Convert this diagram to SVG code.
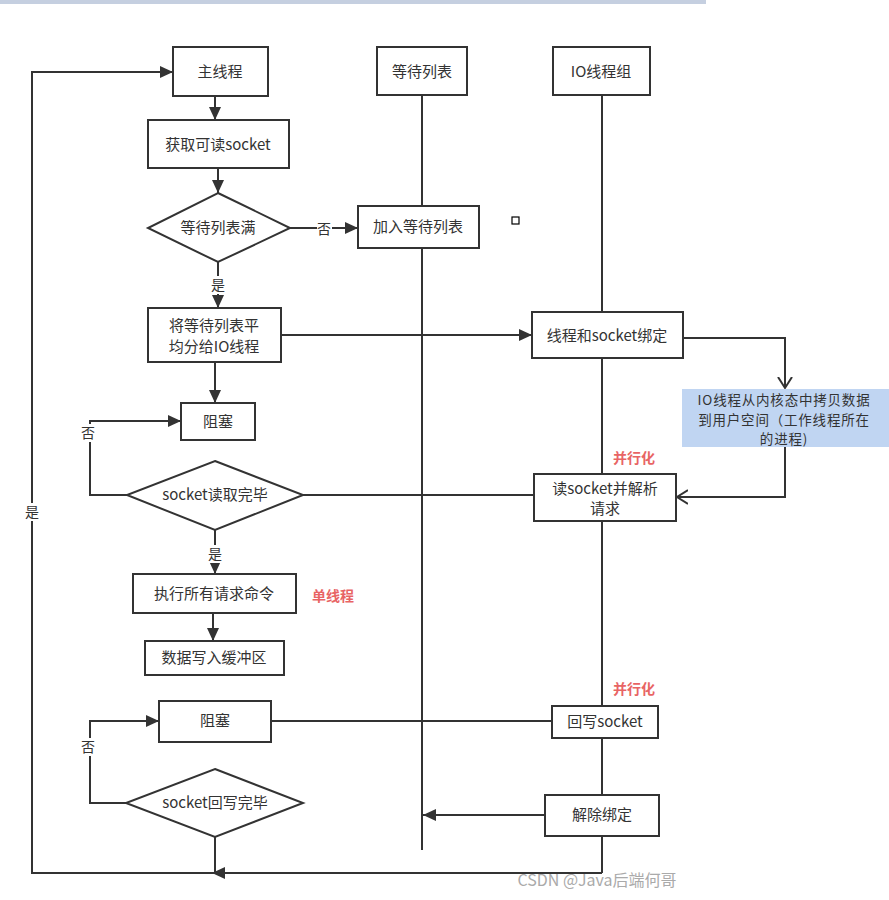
<svg xmlns="http://www.w3.org/2000/svg" width="889" height="900" viewBox="0 0 889 900">
<style>
.box{fill:#fff;stroke:#333;stroke-width:2}
.ln{fill:none;stroke:#333;stroke-width:2}
.t{font-family:"Noto Sans CJK SC","Noto Sans",sans-serif;font-size:15px;fill:#333;text-anchor:middle}
.tb{font-family:"Noto Sans CJK SC","Noto Sans",sans-serif;font-size:13.5px;letter-spacing:0.8px;fill:#333;text-anchor:middle}
.red{font-family:"Noto Sans CJK SC",sans-serif;font-size:14px;font-weight:bold;fill:#e86464;text-anchor:middle}
.lbl{font-family:"Noto Sans CJK SC",sans-serif;font-size:14px;fill:#333;text-anchor:middle}
</style>
<defs>
<marker id="arr" markerUnits="userSpaceOnUse" markerWidth="14" markerHeight="12" refX="13" refY="6" orient="auto">
<path d="M0,0 L13,6 L0,12 z" fill="#333"/>
</marker>
<marker id="open" markerUnits="userSpaceOnUse" markerWidth="14" markerHeight="16" refX="11" refY="8" orient="auto">
<path d="M0,1 L11,8 L0,15" fill="none" stroke="#333" stroke-width="2"/>
</marker>
</defs>
<rect x="0" y="0" width="706" height="4" fill="#c5cfe0"/>

<g id="connectors">
<path class="ln" d="M422,95 L422,206 M422,248 L422,850"/>
<path class="ln" d="M602,95 L602,312 M602,358 L602,474 M602,521 L602,706 M602,738 L602,795 M602,836 L602,873"/>
<path class="ln" d="M215,96 L215,120" marker-end="url(#arr)"/>
<path class="ln" d="M218,168 L218,193" marker-end="url(#arr)"/>
<path class="ln" d="M290,228 L358,228" marker-end="url(#arr)"/>
<path class="ln" d="M218,262 L218,308" marker-end="url(#arr)"/>
<path class="ln" d="M281,335 L532,335" marker-end="url(#arr)"/>
<path class="ln" d="M683,338 L785,338 L785,388" marker-end="url(#open)"/>
<path class="ln" d="M785,447 L785,497 L677,497" marker-end="url(#open)"/>
<path class="ln" d="M215,362 L215,403" marker-end="url(#arr)"/>
<path class="ln" d="M127,495 L90,495 L90,421 L181,421" marker-end="url(#arr)"/>
<path class="ln" d="M303,495 L534,495"/>
<path class="ln" d="M215,530 L215,574" marker-end="url(#arr)"/>
<path class="ln" d="M213,613 L213,641" marker-end="url(#arr)"/>
<path class="ln" d="M271,721 L552,721"/>
<path class="ln" d="M126,803 L90,803 L90,721 L159,721" marker-end="url(#arr)"/>
<path class="ln" d="M545,815 L423,815" marker-end="url(#arr)"/>
<path class="ln" d="M215,837 L215,873"/>
<path class="ln" d="M602,873 L212,873" marker-end="url(#arr)"/>
<path class="ln" d="M215,873 L32,873 L32,72 L173,72" marker-end="url(#arr)"/>
<rect x="317" y="219" width="15" height="18" fill="#fff"/>
<text class="lbl" x="324" y="234">否</text>
<rect x="211" y="276" width="15" height="18" fill="#fff"/>
<text class="lbl" x="218" y="290">是</text>
<rect x="81" y="424" width="15" height="18" fill="#fff"/>
<text class="lbl" x="88" y="438">否</text>
<rect x="208" y="545" width="15" height="18" fill="#fff"/>
<text class="lbl" x="215" y="559">是</text>
<rect x="81" y="738" width="15" height="18" fill="#fff"/>
<text class="lbl" x="88" y="752">否</text>
<rect x="24" y="503" width="16" height="18" fill="#fff"/>
<text class="lbl" x="32" y="517">是</text>
</g>

<g id="n-main"><rect class="box" x="173" y="47" width="95" height="49"/><text class="t" x="220" y="77">主线程</text></g>
<g id="n-waitlist"><rect class="box" x="377" y="47" width="90" height="48"/><text class="t" x="422" y="77">等待列表</text></g>
<g id="n-iogroup"><rect class="box" x="553" y="47" width="97" height="48"/><text class="t" x="601" y="77">IO线程组</text></g>
<g id="n-get"><rect class="box" x="148" y="120" width="141" height="48"/><text class="t" x="218" y="150">获取可读socket</text></g>
<g id="n-full"><polygon class="box" points="218,193 290,228 218,262 148,228"/><text class="t" x="218" y="233">等待列表满</text></g>
<g id="n-add"><rect class="box" x="358" y="206" width="121" height="42"/><text class="t" x="418" y="232">加入等待列表</text></g>
<g id="n-sq"><rect x="512" y="217" width="7" height="7" fill="#fff" stroke="#000" stroke-width="1.2"/></g>
<g id="n-assign"><rect class="box" x="148" y="308" width="133" height="54"/><text class="t" x="214" y="331">将等待列表平</text><text class="t" x="214" y="352">均分给IO线程</text></g>
<g id="n-bind"><rect class="box" x="532" y="312" width="151" height="46"/><text class="t" x="607" y="341">线程和socket绑定</text></g>
<g id="n-copy"><rect x="682" y="389" width="207" height="58" fill="#c0d5f2"/><text class="tb" x="784" y="405">IO线程从内核态中拷贝数据</text><text class="tb" x="784" y="424.5">到用户空间（工作线程所在</text><text class="tb" x="784" y="444">的进程)</text></g>
<g id="n-block1"><rect class="box" x="181" y="403" width="74" height="37"/><text class="t" x="218" y="427">阻塞</text></g>
<g id="n-readdone"><polygon class="box" points="215,461 303,495 215,530 127,495"/><text class="t" x="215" y="500">socket读取完毕</text></g>
<g id="n-read"><rect class="box" x="534" y="474" width="142" height="47"/><text class="t" x="605" y="494">读socket并解析</text><text class="t" x="605" y="514">请求</text></g>
<g id="n-exec"><rect class="box" x="133" y="574" width="163" height="39"/><text class="t" x="214" y="599">执行所有请求命令</text></g>
<g id="n-buf"><rect class="box" x="145" y="641" width="139" height="34"/><text class="t" x="214" y="663">数据写入缓冲区</text></g>
<g id="n-block2"><rect class="box" x="159" y="701" width="112" height="41"/><text class="t" x="215" y="726">阻塞</text></g>
<g id="n-write"><rect class="box" x="552" y="706" width="106" height="32"/><text class="t" x="605" y="727">回写socket</text></g>
<g id="n-writedone"><polygon class="box" points="215,769 303,803 215,837 126,803"/><text class="t" x="215" y="808">socket回写完毕</text></g>
<g id="n-unbind"><rect class="box" x="545" y="795" width="114" height="41"/><text class="t" x="602" y="820">解除绑定</text></g>

<text class="red" x="634" y="463">并行化</text>
<text class="red" x="634" y="694">并行化</text>
<text class="red" x="333" y="601">单线程</text>
<text x="597" y="886" font-family="Noto Sans CJK SC,sans-serif" font-size="16" fill="#aaa" text-anchor="middle">CSDN @Java后端何哥</text>
</svg>
